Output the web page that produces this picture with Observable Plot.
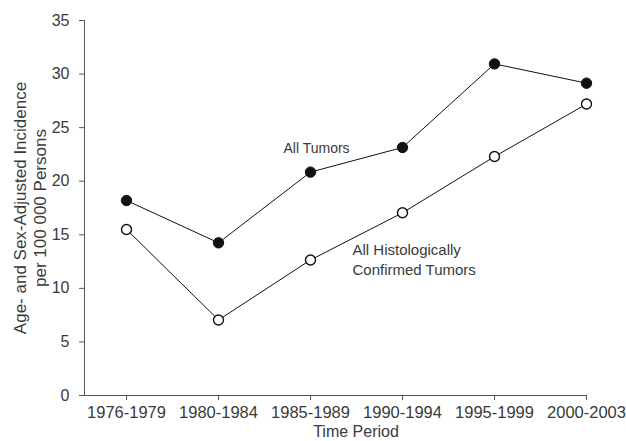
<!DOCTYPE html>
<html>
<head>
<meta charset="utf-8">
<script src="https://cdn.jsdelivr.net/npm/d3@7"></script>
<script src="https://cdn.jsdelivr.net/npm/@observablehq/plot@0.6"></script>
<style>
  html, body { margin: 0; padding: 0; background: #fff; }
  #chart { width: 626px; height: 441px; }
</style>
</head>
<body>
<div id="chart"></div>
<script>
const periods = ["1976-1979", "1980-1984", "1985-1989", "1990-1994", "1995-1999", "2000-2003"];
const allTumors = [18.2, 14.25, 20.85, 23.15, 30.95, 29.15];
const histoConfirmed = [15.5, 7.05, 12.65, 17.05, 22.3, 27.2];
const yTicks = [0, 5, 10, 15, 20, 25, 30, 35];
const seriesNames = ["All Tumors", "All Histologically Confirmed Tumors"];
const annotations = [
  {period: "1985-1989", value: 23.05, text: "All Tumors"},
  {period: "1985-1989", value: 12.75, text: "All Histologically\nConfirmed Tumors"}
];

const rows = [];
periods.forEach((p, i) => {
  rows.push({period: p, value: allTumors[i], series: seriesNames[0]});
  rows.push({period: p, value: histoConfirmed[i], series: seriesNames[1]});
});
const allRows = rows.filter(d => d.series === seriesNames[0]);
const histRows = rows.filter(d => d.series === seriesNames[1]);

const font = "'Liberation Sans', Arial, Helvetica, sans-serif";
const txt = "#3a3a3a";
const axisColor = "#555";

const chart = Plot.plot({
  width: 626,
  height: 441,
  marginLeft: 84,
  marginRight: 39,
  marginTop: 20,
  marginBottom: 46,
  style: {fontFamily: font, fontSize: "16px", color: txt, background: "#fff"},
  x: {type: "point", domain: periods, padding: 0, insetLeft: 41, insetRight: 0, label: null},
  y: {domain: [0, 35], label: null},
  marks: [
    Plot.frame({anchor: "left", stroke: axisColor, strokeWidth: 1}),
    Plot.ruleY([0], {stroke: axisColor, strokeWidth: 1}),
    Plot.axisY({ticks: yTicks, tickSize: 5, tickPadding: 10, stroke: axisColor, fill: txt, fontSize: 16, label: null}),
    Plot.axisX({tickSize: 5, tickPadding: 6, stroke: axisColor, fill: txt, fontSize: 16.5, label: null}),
    Plot.line(allRows, {x: "period", y: "value", stroke: "#111", strokeWidth: 1}),
    Plot.line(histRows, {x: "period", y: "value", stroke: "#111", strokeWidth: 1}),
    Plot.dot(allRows, {x: "period", y: "value", r: 5.2, fill: "#111", stroke: "#111", strokeWidth: 1}),
    Plot.dot(histRows, {x: "period", y: "value", r: 5, fill: "#fff", stroke: "#111", strokeWidth: 1.4}),
    Plot.text([annotations[0]], {x: "period", y: "value", text: "text", textAnchor: "start", dx: -27, fontSize: 14, fill: txt}),
    Plot.text([annotations[1]], {x: "period", y: "value", text: "text", textAnchor: "start", dx: 42, fontSize: 15, lineHeight: 1.27, fill: txt}),
    Plot.text(["Time Period"], {frameAnchor: "bottom", dx: 20, dy: 41, fontSize: 16, fill: txt}),
    Plot.text(["Age- and Sex-Adjusted Incidence\nper 100 000 Persons"], {frameAnchor: "left", textAnchor: "middle", lineAnchor: "middle", rotate: -90, dx: -55, fontSize: 17, lineHeight: 1.18, fill: txt})
  ]
});
document.getElementById("chart").appendChild(chart);
</script>
</body>
</html>
